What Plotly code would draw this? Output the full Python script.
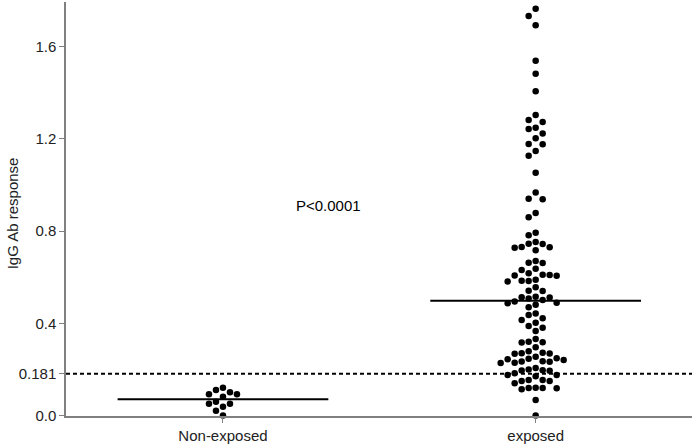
import numpy as np
import plotly.graph_objects as go

# data
groups = ["Non-exposed", "exposed"]
cutoff = 0.181
y_ticks = [0.0, 0.181, 0.4, 0.8, 1.2, 1.6]
y_tick_labels = ["0.0", "0.181", "0.4", "0.8", "1.2", "1.6"]

non_exposed = [0.121, 0.111, 0.101, 0.092, 0.092, 0.082, 0.060, 0.051, 0.051,
               0.038, 0.021, 0.0]

exposed = [1.765, 1.733, 1.693, 1.539, 1.483, 1.407,
           1.304, 1.282, 1.273, 1.248, 1.243, 1.223, 1.203, 1.178, 1.177, 1.148, 1.127,
           1.053, 0.968, 0.941, 0.938, 0.879, 0.860, 0.793, 0.782,
           0.753, 0.745, 0.744, 0.731, 0.728, 0.717, 0.730,
           0.670, 0.663, 0.662, 0.637, 0.631,
           0.617, 0.611, 0.610, 0.608, 0.606,
           0.589, 0.585, 0.584, 0.582, 0.556, 0.541, 0.540,
           0.515, 0.513, 0.512, 0.508, 0.501, 0.495, 0.487,
           0.489, 0.481, 0.470,
           0.443, 0.436, 0.422, 0.414, 0.403, 0.388, 0.381, 0.367,
           0.332, 0.320, 0.318, 0.317, 0.296,
           0.279, 0.272, 0.270, 0.269, 0.268,
           0.255, 0.249, 0.246, 0.244, 0.241, 0.236, 0.233, 0.234, 0.229, 0.228,
           0.206, 0.200, 0.197, 0.194, 0.195,
           0.183, 0.176, 0.176, 0.170,
           0.154, 0.154, 0.150, 0.150,
           0.140, 0.121, 0.118, 0.114, 0.120, 0.120,
           0.067, 0.0]

p_text = "P<0.0001"

FONT = "Arial, Liberation Sans, sans-serif"
Y_RANGE = [-0.002, 1.794]
X_RANGE = [-0.502, 1.5]
PLOT_W, PLOT_H = 626, 414


def swarm(values, col_px=7.0, gap_px=7.5):
    # simple column beeswarm: stack dots into columns, nearest to centre first
    px_y = PLOT_H / (Y_RANGE[1] - Y_RANGE[0])
    px_x = PLOT_W / (X_RANGE[1] - X_RANGE[0])
    order = np.argsort(values)[::-1]
    placed = {}
    offs = np.zeros(len(values))
    for i in order:
        y = values[i] * px_y
        for k in [0, -1, 1, -2, 2, -3, 3, -4, 4, -5, 5, -6, 6]:
            if all(abs(y - yy) >= gap_px for yy in placed.get(k, [])):
                placed.setdefault(k, []).append(y)
                offs[i] = k * col_px / px_x
                break
    return offs


fig = go.Figure()

# cut-off line
fig.add_trace(go.Scatter(
    x=X_RANGE, y=[cutoff, cutoff], mode="lines",
    line=dict(color="black", width=2, dash="4px,3px"),
    hoverinfo="skip", showlegend=False))

for i, vals in enumerate([non_exposed, exposed]):
    vals = np.array(vals)
    xs = i + swarm(vals)
    fig.add_trace(go.Scatter(
        x=xs, y=vals, mode="markers",
        marker=dict(color="black", size=6.5),
        cliponaxis=False, showlegend=False))
    med = np.median(vals)
    fig.add_trace(go.Scatter(
        x=[i - 0.337, i + 0.337], y=[med, med], mode="lines",
        line=dict(color="black", width=2),
        hoverinfo="skip", showlegend=False))

fig.add_annotation(x=0.336, y=0.913, text=p_text, showarrow=False,
                   font=dict(family=FONT, size=15, color="black"))
fig.add_annotation(xref="paper", yref="paper", x=-0.086, y=0.49,
                   xanchor="center", yanchor="middle",
                   text="IgG Ab response", textangle=-90, showarrow=False,
                   font=dict(family=FONT, size=15, color="#222"))

fig.update_layout(
    width=696, height=445,
    margin=dict(l=66, r=4, t=2, b=29),
    plot_bgcolor="white", paper_bgcolor="white",
    font=dict(family=FONT, size=15, color="#222"),
    xaxis=dict(range=X_RANGE, tickvals=[0, 1], ticktext=groups,
               showgrid=False, zeroline=False, showline=True,
               linecolor="#808080", linewidth=1.5,
               ticks="outside", ticklen=5, tickcolor="#808080"),
    yaxis=dict(range=Y_RANGE, tickvals=y_ticks, ticktext=y_tick_labels,
               showgrid=False, zeroline=False, showline=True,
               linecolor="#808080", linewidth=1.5,
               ticks="outside", ticklen=5, tickcolor="#808080"),
)

fig.write_html("out.html", config={"displayModeBar": False},
               post_script="document.body.style.margin='0';"
                           "document.body.style.overflow='hidden';")
